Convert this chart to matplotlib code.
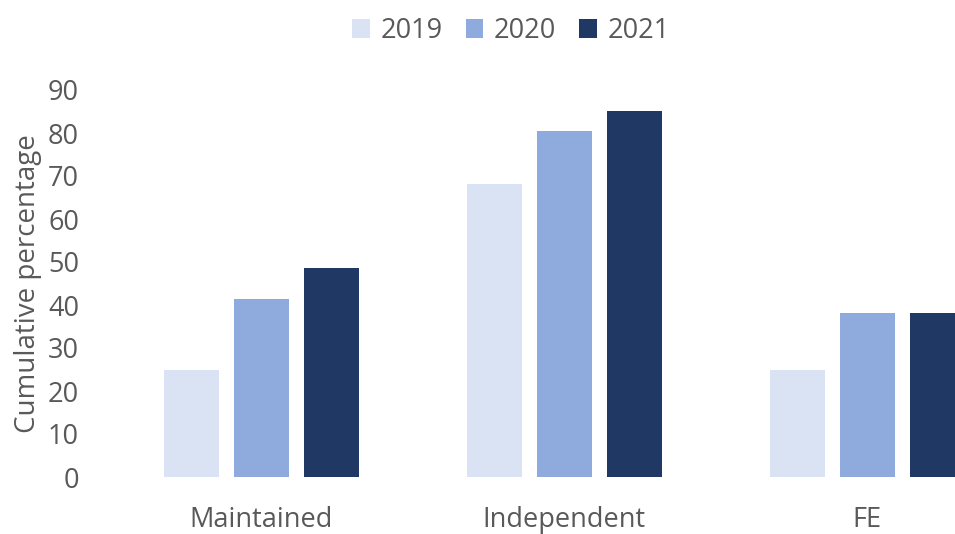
import matplotlib
matplotlib.use("Agg")
import matplotlib.pyplot as plt
import numpy as np
from matplotlib.patches import Patch

categories = ["Maintained", "Independent", "FE"]
years = ["2019", "2020", "2021"]
values_2019 = [25.0, 68.2, 24.8]
values_2020 = [41.3, 80.5, 38.2]
values_2021 = [48.7, 85.2, 38.2]
y_ticks = [0, 10, 20, 30, 40, 50, 60, 70, 80, 90]

colors = ["#DAE3F3", "#8FAADC", "#203864"]
text_color = "#595959"

plt.rcParams["font.family"] = ["Open Sans", "DejaVu Sans"]

fig = plt.figure(figsize=(9.55, 5.34), dpi=100)
ax = fig.add_axes([109.5 / 955, (534 - 477) / 534, 1 - 109.5 / 955, (477 - 90) / 534])

x = np.arange(len(categories))
width = 55 / 303
step = 70 / 303
series = [values_2019, values_2020, values_2021]
for i, (vals, c) in enumerate(zip(series, colors)):
    ax.bar(x + (i - 1) * step, vals, width=width, color=c, label=years[i])

ax.set_xlim(-0.5, (955 - 261) / 303)
ax.set_ylim(0, 90)
ax.set_yticks(y_ticks)
ax.set_xticks(x)
ax.set_xticklabels(categories)
for s in ax.spines.values():
    s.set_visible(False)
ax.tick_params(axis="both", length=0, labelsize=19.5, colors=text_color)
ax.tick_params(axis="y", pad=22)
ax.tick_params(axis="x", pad=21)
ax.set_ylabel("Cumulative percentage", fontsize=20, color=text_color, labelpad=4)

handles = [Patch(facecolor=c, edgecolor="none") for c in colors]
fig.legend(handles, years, loc="center", bbox_to_anchor=(511 / 955, 1 - 31 / 534),
           ncol=3, frameon=False, fontsize=19.5, labelcolor=text_color,
           handlelength=0.65, handleheight=0.65, handletextpad=0.4, columnspacing=0.85)

fig.savefig("out.png", dpi=100)
